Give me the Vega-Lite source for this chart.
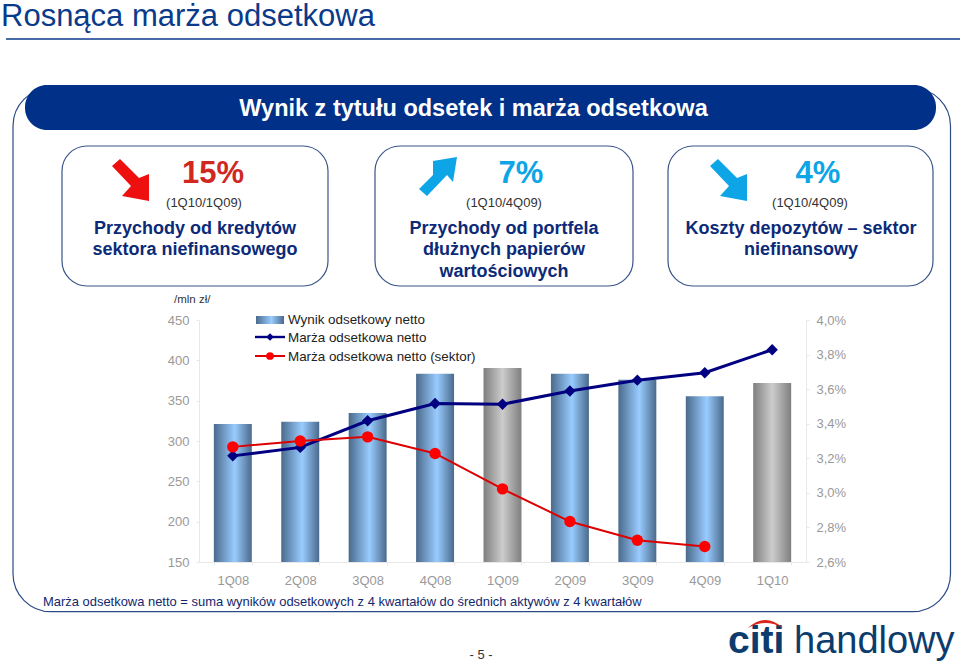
{
"$schema":"https://vega.github.io/schema/vega-lite/v6.json",
"width":607,"height":242,
"padding":{"left":199,"top":320,"right":154,"bottom":103},
"autosize":{"type":"none"},
"background":"white",
"config":{"font":"Liberation Sans","view":{"stroke":null}},
"data":{"values":[
{"quarter":"1Q08","wynik":321,"marza":3.214,"sektor":3.266},
{"quarter":"2Q08","wynik":324,"marza":3.263,"sektor":3.30},
{"quarter":"3Q08","wynik":334.6,"marza":3.417,"sektor":3.324},
{"quarter":"4Q08","wynik":383.3,"marza":3.517,"sektor":3.228},
{"quarter":"1Q09","wynik":390.4,"marza":3.513,"sektor":3.023},
{"quarter":"2Q09","wynik":383.3,"marza":3.589,"sektor":2.834},
{"quarter":"3Q09","wynik":376,"marza":3.652,"sektor":2.726},
{"quarter":"4Q09","wynik":355.6,"marza":3.695,"sektor":2.69},
{"quarter":"1Q10","wynik":372,"marza":3.828,"sektor":null}
]},
"resolve":{"scale":{"y":"independent"}},
"layer":[
{"data":{"values":[{}]},"layer":[
{"mark":{"type":"text","text":"Rosnąca marża odsetkowa","x":-198,"y":-294,"align":"left","baseline":"alphabetic","fontSize":31,"color":"#0a3a8a"}},
{"mark":{"type":"rect","x":-193,"x2":761,"y":-281.7,"y2":-280.3,"fill":"#0a3a8a"}},
{"mark":{"type":"rect","x":-186,"x2":751.5,"y":-232,"y2":291.7,"cornerRadius":38,"fill":"transparent","stroke":"#2b4a86","strokeWidth":1.2}},
{"mark":{"type":"rect","x":-174,"x2":737,"y":-235,"y2":-190,"cornerRadius":22,"fill":"#003087"}},
{"mark":{"type":"text","text":"Wynik z tytułu odsetek i marża odsetkowa","x":274.5,"y":-204,"align":"center","baseline":"alphabetic","fontSize":23.5,"fontWeight":"bold","color":"white"}},
{"mark":{"type":"rect","x":-137,"x2":129,"y":-174,"y2":-34,"cornerRadius":25,"fill":"transparent","stroke":"#3a5488","strokeWidth":1.2}},
{"mark":{"type":"rect","x":176,"x2":434,"y":-174,"y2":-34,"cornerRadius":25,"fill":"transparent","stroke":"#3a5488","strokeWidth":1.2}},
{"mark":{"type":"rect","x":469,"x2":734,"y":-174,"y2":-34,"cornerRadius":25,"fill":"transparent","stroke":"#3a5488","strokeWidth":1.2}},
{"mark":{"type":"point","shape":"M-0.72,-0.56L-0.4,-0.84L0.36,-0.08L0.76,-0.24L0.76,0.84L-0.32,0.64L0.04,0.24Z","size":2500,"x":-69,"y":-140,"filled":true,"fill":"#ee0f0f","opacity":1,"strokeWidth":0}},
{"mark":{"type":"point","shape":"M-0.76,0.52L-0.2,-0.04L-0.2,-0.6L0.76,-0.76L0.6,0.24L0.36,-0.04L-0.44,0.8Z","size":2500,"x":239,"y":-144,"filled":true,"fill":"#0ea5e6","opacity":1,"strokeWidth":0}},
{"mark":{"type":"point","shape":"M-0.72,-0.56L-0.4,-0.84L0.36,-0.08L0.76,-0.24L0.76,0.84L-0.32,0.64L0.04,0.24Z","size":2500,"x":529,"y":-140,"filled":true,"fill":"#0ea5e6","opacity":1,"strokeWidth":0}},
{"mark":{"type":"text","text":"15%","x":14,"y":-137,"align":"center","baseline":"alphabetic","fontSize":31,"fontWeight":"bold","color":"#d0281f"}},
{"mark":{"type":"text","text":"7%","x":322,"y":-137,"align":"center","baseline":"alphabetic","fontSize":31,"fontWeight":"bold","color":"#0ea5e6"}},
{"mark":{"type":"text","text":"4%","x":619,"y":-137,"align":"center","baseline":"alphabetic","fontSize":31,"fontWeight":"bold","color":"#0ea5e6"}},
{"mark":{"type":"text","text":"(1Q10/1Q09)","x":5,"y":-113,"align":"center","baseline":"alphabetic","fontSize":13,"color":"#333333"}},
{"mark":{"type":"text","text":"(1Q10/4Q09)","x":305,"y":-113,"align":"center","baseline":"alphabetic","fontSize":13,"color":"#333333"}},
{"mark":{"type":"text","text":"(1Q10/4Q09)","x":611,"y":-113,"align":"center","baseline":"alphabetic","fontSize":13,"color":"#333333"}},
{"mark":{"type":"text","text":["Przychody od kredytów","sektora niefinansowego"],"x":-4,"y":-86.5,"lineHeight":21.5,"align":"center","baseline":"alphabetic","fontSize":18,"fontWeight":"bold","color":"#0b2a78"}},
{"mark":{"type":"text","text":["Przychody od portfela","dłużnych papierów","wartościowych"],"x":305,"y":-86.5,"lineHeight":21.5,"align":"center","baseline":"alphabetic","fontSize":18,"fontWeight":"bold","color":"#0b2a78"}},
{"mark":{"type":"text","text":["Koszty depozytów – sektor","niefinansowy"],"x":602,"y":-86.5,"lineHeight":21.5,"align":"center","baseline":"alphabetic","fontSize":18,"fontWeight":"bold","color":"#0b2a78"}},
{"mark":{"type":"text","text":"/mln zł/","x":-25,"y":-17,"align":"left","baseline":"alphabetic","fontSize":11.5,"color":"#333333"}},
{"mark":{"type":"text","text":"Marża odsetkowa netto = suma wyników odsetkowych z 4 kwartałów do średnich aktywów z 4 kwartałów","x":-156,"y":285.5,"align":"left","baseline":"alphabetic","fontSize":12.95,"color":"#12286e"}},
{"mark":{"type":"text","text":"- 5 -","x":282,"y":339,"align":"center","baseline":"alphabetic","fontSize":13,"color":"#333333"}},
{"mark":{"type":"text","text":"citi","x":529,"y":333,"align":"left","baseline":"alphabetic","fontSize":39,"fontWeight":"bold","color":"#0c3c6e"}},
{"mark":{"type":"text","text":"handlowy","x":595,"y":333,"align":"left","baseline":"alphabetic","fontSize":38,"color":"#0c3c6e"}},
{"mark":{"type":"point","shape":"M-0.7,0.16Q0,-0.48 0.7,0.16Q0,-0.24 -0.7,0.16Z","size":2500,"x":566.5,"y":304,"filled":true,"fill":"#d9261c","opacity":1,"strokeWidth":0}}
]},
{"mark":{"type":"bar"},
"encoding":{
"x":{"field":"quarter","type":"nominal","sort":null,"title":null,
"scale":{"type":"band","paddingInner":0.437,"paddingOuter":0.22},
"axis":{"orient":"bottom","tickBand":"extent","tickSize":3,"labelAngle":0,"labelColor":"#999999","labelFontSize":13,"labelPadding":9,"tickColor":"#e8e8e8","domainColor":"#e8e8e8"}},
"y":{"field":"wynik","type":"quantitative","title":null,
"scale":{"domain":[150,450],"nice":false,"zero":false},
"axis":{"orient":"left","values":[150,200,250,300,350,400,450],"tickCount":7,"format":"d","tickSize":3,"labelColor":"#999999","labelFontSize":13,"labelPadding":7,"labelOverlap":false,"tickColor":"#e8e8e8","domainColor":"#e8e8e8","grid":false}},
"y2":{"datum":150},
"color":{"condition":{"test":"datum.quarter==='1Q09'||datum.quarter==='1Q10'",
"value":{"gradient":"linear","x1":0,"x2":1,"y1":0,"y2":0,"stops":[{"offset":0,"color":"#7f7f7f"},{"offset":0.5,"color":"#cccccc"},{"offset":1,"color":"#7f7f7f"}]}},
"value":{"gradient":"linear","x1":0,"x2":1,"y1":0,"y2":0,"stops":[{"offset":0,"color":"#4a6a8c"},{"offset":0.55,"color":"#99ccff"},{"offset":1,"color":"#4a6a8c"}]}}
}},
{"layer":[
{"mark":{"type":"line","color":"#000080","strokeWidth":3,"point":{"shape":"diamond","size":130,"filled":true,"color":"#000080","opacity":1}},
"encoding":{"x":{"field":"quarter","type":"nominal","sort":null},
"y":{"field":"marza","type":"quantitative","title":null,
"scale":{"domain":[2.6,4.0],"nice":false,"zero":false},
"axis":{"orient":"right","values":[2.6,2.8,3.0,3.2,3.4,3.6,3.8,4.0],"tickCount":8,"labelExpr":"replace(format(datum.value,'.1f'),'.',',')+'%'","tickSize":3,"labelColor":"#999999","labelFontSize":13,"labelPadding":7,"labelOverlap":false,"tickColor":"#e8e8e8","domainColor":"#e8e8e8","grid":false}}}},
{"mark":{"type":"line","color":"#dd0000","strokeWidth":2,"point":{"shape":"circle","size":130,"filled":true,"color":"#ff0000","opacity":1}},
"encoding":{"x":{"field":"quarter","type":"nominal","sort":null},
"y":{"field":"sektor","type":"quantitative"}}}
]},
{"data":{"values":[{}]},"layer":[
{"mark":{"type":"rect","x":57,"x2":85,"y":-4,"y2":4,"fill":{"gradient":"linear","x1":0,"x2":1,"y1":0,"y2":0,"stops":[{"offset":0,"color":"#4a6a8c"},{"offset":0.55,"color":"#99ccff"},{"offset":1,"color":"#4a6a8c"}]}}},
{"mark":{"type":"rect","x":56,"x2":86,"y":15.8,"y2":18.2,"fill":"#000080"}},
{"mark":{"type":"point","shape":"diamond","size":60,"x":71,"y":17,"filled":true,"color":"#000080","opacity":1}},
{"mark":{"type":"rect","x":56,"x2":86,"y":35,"y2":37,"fill":"#dd0000"}},
{"mark":{"type":"point","shape":"circle","size":60,"x":71,"y":36,"filled":true,"color":"#ff0000","opacity":1}},
{"mark":{"type":"text","text":"Wynik odsetkowy netto","x":89,"y":4,"align":"left","baseline":"alphabetic","fontSize":13.4,"color":"#222222"}},
{"mark":{"type":"text","text":"Marża odsetkowa netto","x":89,"y":22,"align":"left","baseline":"alphabetic","fontSize":13.4,"color":"#222222"}},
{"mark":{"type":"text","text":"Marża odsetkowa netto (sektor)","x":89,"y":41,"align":"left","baseline":"alphabetic","fontSize":13.4,"color":"#222222"}}
]}
]
}
